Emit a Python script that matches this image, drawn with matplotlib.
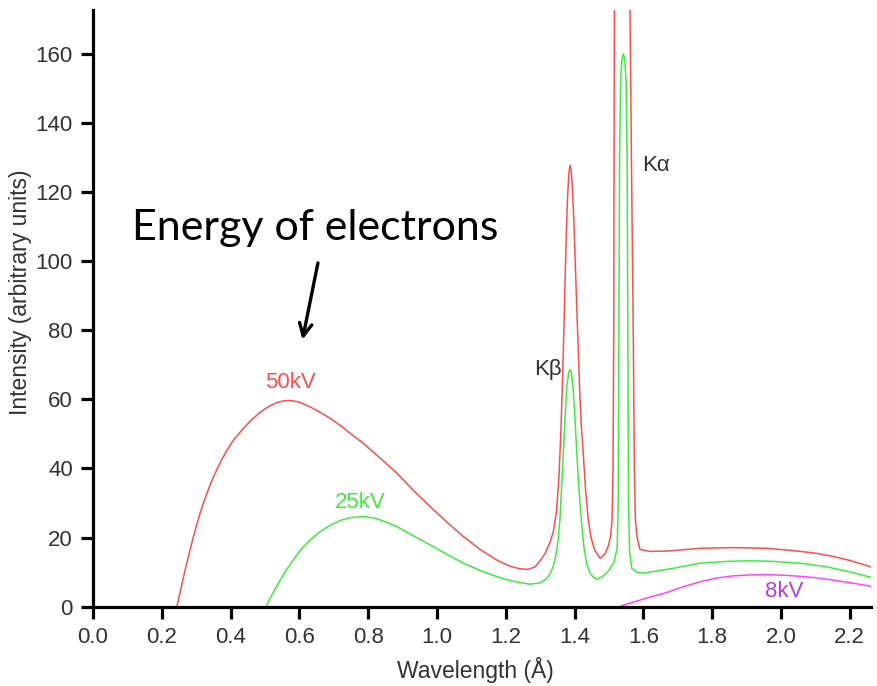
import matplotlib
matplotlib.use("Agg")
import matplotlib.pyplot as plt

# ---- data ----
x_50kv = [0.244, 0.248, 0.255, 0.265, 0.275, 0.29, 0.30, 0.31, 0.32, 0.33, 0.34, 0.35,
          0.36, 0.375, 0.39, 0.41, 0.437, 0.46, 0.485, 0.51, 0.535, 0.555, 0.575, 0.60,
          0.63, 0.66, 0.69, 0.72,
          0.75, 0.786, 0.835, 0.883, 0.93, 0.98, 1.03, 1.077, 1.125, 1.174, 1.21, 1.24,
          1.265, 1.285, 1.30, 1.315, 1.328, 1.338, 1.348, 1.355, 1.36, 1.364, 1.368,
          1.372, 1.376, 1.38, 1.384, 1.387, 1.390, 1.394, 1.398, 1.402, 1.406, 1.411,
          1.416, 1.42, 1.425, 1.432, 1.44, 1.448, 1.458, 1.474, 1.488, 1.498, 1.505,
          1.509, 1.512, 1.514, 1.515, 1.516, 1.54, 1.561, 1.566, 1.571, 1.574, 1.577,
          1.582, 1.59, 1.62, 1.668, 1.765, 1.86, 1.958, 2.03, 2.10, 2.15, 2.20, 2.273]
y_50kv = [0, 1.9, 5.0, 9.4, 13.6, 19.5, 23.2, 26.6, 29.7, 32.5, 35.1, 37.5,
          39.7, 42.7, 45.4, 48.4, 51.6, 54.0, 56.2, 57.9, 59.1, 59.6, 59.7, 59.2,
          57.9, 56.3, 54.5, 52.4,
          50.0, 47.3, 43, 38.7, 33.8, 29, 24.4, 20.3, 16.6, 13.5, 11.8, 11,
          10.8, 11.5, 13.3, 15.5, 18.5, 21.5, 28, 38, 50, 62, 76,
          92, 108, 119, 126, 127.8, 126.5, 121, 112, 100, 88, 74,
          60, 52, 45, 34, 25, 20, 16.5, 14, 15.2, 17.5, 20.5,
          25, 40, 80, 130, 175, 330, 175, 125, 77, 40, 25,
          20, 16.6, 16, 16.1, 16.9, 17.1, 16.9, 16.3, 15.5, 14.6, 13.4, 11.2]

x_25kv = [0.503, 0.515, 0.53, 0.545, 0.56, 0.582, 0.605, 0.631, 0.66, 0.69, 0.72, 0.75,
          0.786, 0.82, 0.85, 0.883, 0.93, 0.98, 1.03, 1.077, 1.125, 1.174, 1.22, 1.27,
          1.30, 1.32, 1.33, 1.338, 1.345, 1.352, 1.358, 1.363, 1.368, 1.373, 1.378,
          1.383, 1.387, 1.391, 1.396, 1.401, 1.406, 1.412, 1.42, 1.427, 1.435, 1.445,
          1.455, 1.464, 1.48, 1.50, 1.515, 1.524, 1.527, 1.529, 1.531, 1.534, 1.538,
          1.542, 1.546, 1.55, 1.553, 1.555, 1.557, 1.56, 1.566, 1.58, 1.60, 1.68,
          1.765, 1.84, 1.91, 1.98, 2.055, 2.13, 2.20, 2.273]
y_25kv = [0, 2.5, 5.2, 7.8, 10.3, 13.5, 16.6, 19.3, 21.7, 23.6, 25, 25.8,
          26.1, 25.6, 24.6, 23.2, 20.6, 17.9, 15.1, 12.6, 10.5, 8.7, 7.4, 6.5,
          6.9, 8.2, 9.8, 11.6, 14.5, 19, 26, 35.5, 45.4, 55.5, 64,
          67.8, 68.6, 67.8, 63, 55, 45.4, 35, 25, 17.5, 12.5, 9.8,
          8.5, 8.0, 8.6, 10.5, 13, 17, 30, 80, 130, 152, 158.5,
          160, 158.5, 152, 130, 80, 30, 16, 11.2, 10, 9.7, 11,
          12.6, 13.1, 13.3, 13.1, 12.6, 11.6, 10.1, 8.2]

x_8kv = [1.537, 1.58, 1.62, 1.668, 1.72, 1.765, 1.813, 1.86, 1.91, 1.958, 2.01, 2.055,
         2.10, 2.152, 2.21, 2.273]
y_8kv = [0.3, 1.6, 2.8, 4.1, 5.9, 7.2, 8.3, 8.9, 9.2, 9.3, 9.1, 8.8,
         8.4, 7.7, 6.8, 5.7]

x_ticks = [0.0, 0.2, 0.4, 0.6, 0.8, 1.0, 1.2, 1.4, 1.6, 1.8, 2.0, 2.2]
y_ticks = [0, 20, 40, 60, 80, 100, 120, 140, 160]

# ---- figure ----
fig = plt.figure(figsize=(8.77, 6.86), dpi=100)
ax = fig.add_axes([93 / 877, 1 - 606.7 / 686, (871 - 93) / 877, (606.7 - 10) / 686])

red = "#ff4d4d"
green = "#3ded3d"
magenta = "#ff44ff"

for xs, ys, c in [(x_50kv, y_50kv, red), (x_25kv, y_25kv, green), (x_8kv, y_8kv, magenta)]:
    ax.plot(xs, ys, color=c, lw=1.1, solid_joinstyle="round", antialiased=True)

ax.set_xlim(0, 2.262)
ax.set_ylim(0, 172.7)

for s in ["top", "right"]:
    ax.spines[s].set_visible(False)
for s in ["left", "bottom"]:
    ax.spines[s].set_linewidth(2.3)
    ax.spines[s].set_color("black")

ax.set_xticks(x_ticks)
ax.set_xticklabels([f"{v:.1f}" for v in x_ticks])
ax.set_yticks(y_ticks)
ax.set_yticklabels([str(v) for v in y_ticks])

ax.tick_params(direction="out", length=8.5, width=2.3, color="black",
               labelcolor="#333333", labelsize=16, pad=6)
for lab in ax.get_xticklabels() + ax.get_yticklabels():
    lab.set_fontfamily("Liberation Sans")

ax.set_xlabel("Wavelength (Å)", fontfamily="Liberation Sans", fontsize=16.5,
              color="#333333")
ax.set_ylabel("Intensity (arbitrary units)", fontfamily="Liberation Sans",
              fontsize=16.5, color="#333333")
ax.xaxis.set_label_coords(0.492, -0.085)
ax.yaxis.set_label_coords(-0.079, 0.527)

lbl = dict(fontfamily="Liberation Sans", fontsize=16, ha="center", va="center")
ax.text(0.573, 64.8, "50kV", color=red, **lbl)
ax.text(0.776, 30.2, "25kV", color=green, **lbl)
ax.text(2.01, 4.3, "8kV", color="#b23fe0", **lbl)
ax.text(1.323, 68.6, "Kβ", color="#333333", **lbl)
ax.text(1.637, 127.7, "Kα", color="#333333", **lbl)

ax.text(0.645, 109.5, "Energy of electrons", fontfamily="Lato", fontsize=31,
        color="black", ha="center", va="center")
ax.annotate("", xy=(0.609, 77.3), xytext=(0.654, 99.5),
            arrowprops=dict(arrowstyle="->,head_length=0.9,head_width=0.45",
                            color="black", lw=2.4, shrinkA=0, shrinkB=0))

fig.savefig("out.png", dpi=100)
